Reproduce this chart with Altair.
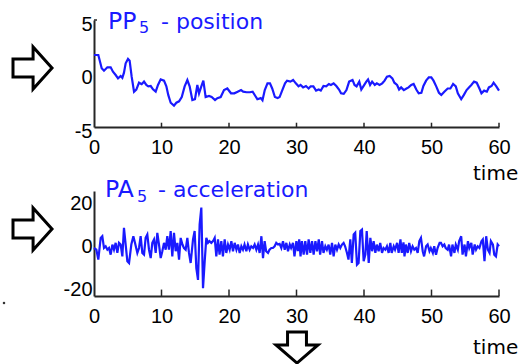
import altair as alt
import pandas as pd

# ---------------- data ----------------
pos_t = [0, 0.64, 1.14, 1.48, 1.98, 2.47, 2.81, 3.21, 3.56, 3.95, 4.2, 4.44, 4.69, 5.04, 5.28,
         5.58, 5.93, 6.27, 6.67, 7.06, 7.41, 7.75, 8.05, 8.4, 8.74, 9.14, 9.48, 9.88, 10.37,
         10.72, 11.0, 11.36, 11.85, 12.2, 12.6, 13.0, 13.43, 13.83, 14.17, 14.57, 14.96, 15.31,
         15.56, 15.9, 16.2, 16.54, 17.04, 17.43, 17.93, 18.27, 18.77, 19.26, 19.75, 20.3, 20.79,
         21.28, 21.78, 22.1, 22.6, 23.1, 23.5, 23.9, 24.2, 24.7, 24.96, 25.3, 25.7, 26.07, 26.4,
         26.8, 27.2, 27.5, 27.9, 28.3, 28.6, 29.1, 29.5, 29.9, 30.3, 30.6, 30.98, 31.4, 31.8,
         32.1, 32.5, 32.9, 33.3, 33.6, 34.0, 34.4, 34.8, 35.1, 35.5, 35.9, 36.3, 36.6, 37.0,
         37.4, 37.8, 38.3, 38.6, 38.9, 39.3, 39.6, 39.9, 40.34, 40.6, 40.9, 41.2, 41.6, 41.9,
         42.3, 42.7, 43.05, 43.4, 43.8, 44.2, 44.5, 44.9, 45.2, 45.5, 45.9, 46.3, 46.6, 47.0,
         47.35, 47.75, 48.1, 48.5, 48.8, 49.2, 49.6, 49.97, 50.3, 50.7, 51.1, 51.45, 51.9, 52.4,
         52.8, 53.2, 53.6, 53.9, 54.4, 54.8, 55.2, 55.55, 55.9, 56.3, 56.7, 57.1, 57.4, 57.8,
         58.2, 58.5, 58.9, 59.2, 59.6, 60.0]
pos_v = [1.73, 1.73, 0.49, 0.26, 0.58, 0.58, 0.17, -0.14, -0.45, -0.23, -0.4, 0.08, 0.95, 1.36,
         1.2, -0.3, -1.7, -1.5, -0.86, -1.0, -0.76, -1.07, -1.2, -1.17, -1.48, -1.7, -1.07,
         -0.55, -0.67, -1.2, -2.0, -2.73, -3.0, -2.73, -2.6, -2.2, -1.2, -0.61, -1.2, -2.48,
         -2.4, -1.07, -1.86, -1.2, -0.67, -2.2, -2.1, -2.2, -2.48, -2.3, -2.2, -1.54, -1.4,
         -1.85, -1.85, -1.7, -1.55, -1.7, -1.75, -1.75, -1.7, -2.1, -2.4, -2.3, -2.5, -1.55,
         -0.92, -0.92, -1.4, -2.2, -2.3, -2.2, -1.55, -0.92, -0.67, -0.76, -0.6, -0.92, -1.2,
         -1.07, -1.3, -1.17, -1.4, -1.2, -1.2, -1.6, -1.5, -1.6, -1.17, -1.2, -0.98, -1.07,
         -0.92, -1.17, -1.5, -1.85, -1.9, -1.55, -0.76, -0.6, -1.07, -1.2, -0.76, -1.5, -1.2,
         -0.76, -0.55, -1.07, -0.76, -1.07, -0.92, -1.07, -0.92, -0.67, -0.3, -0.23, -0.45,
         -0.86, -1.07, -1.5, -1.3, -1.55, -1.4, -1.3, -1.07, -0.98, -1.5, -1.85, -1.8, -1.17,
         -0.67, -0.36, -0.36, -0.67, -1.2, -1.8, -2.0, -1.7, -1.4, -1.4, -0.98, -1.2, -1.85,
         -2.4, -2.0, -1.55, -1.3, -1.07, -0.76, -0.86, -1.4, -1.85, -1.6, -1.7, -1.3, -1.17,
         -0.86, -1.2, -1.6]

acc_t = [0, 0.35, 0.64, 0.99, 1.23, 1.48, 1.73, 1.98, 2.22, 2.47, 2.72, 2.96, 3.21, 3.46, 3.7,
         3.95, 4.2, 4.44, 4.69, 4.94, 5.19, 5.53, 5.83, 6.07, 6.42, 6.67, 6.91, 7.16, 7.41,
         7.65, 7.9, 8.15, 8.4, 8.64, 8.89, 9.14, 9.38, 9.63, 9.88, 10.12, 10.37, 10.62, 10.86,
         11.1, 11.36, 11.6, 11.85, 12.1, 12.35, 12.6, 12.84, 13.1, 13.33, 13.58, 13.83, 14.07,
         14.32, 14.67, 14.91, 15.16, 15.41, 15.65, 15.9, 16.15, 16.4, 16.64, 16.89, 17.1, 17.38,
         17.63, 17.88, 18.12, 18.37, 18.6, 18.86, 19.1, 19.36, 19.6, 19.85, 20.1, 20.35, 20.59,
         20.84, 21.1, 21.33, 21.58, 21.83, 22.07, 22.3, 22.57, 22.8, 23.06, 23.3, 23.56, 23.8,
         24.05, 24.3, 24.54, 24.8, 25.04, 25.28, 25.5, 25.78, 26.0, 26.27, 26.5, 26.76, 27.0,
         27.26, 27.5, 27.75, 28.0, 28.25, 28.5, 28.74, 29.0, 29.2, 29.48, 29.7, 29.98, 30.2,
         30.4, 30.6, 30.8, 31.06, 31.3, 31.56, 31.8, 32.05, 32.3, 32.54, 32.8, 33.04, 33.3,
         33.5, 33.78, 34.0, 34.27, 34.5, 34.76, 35.0, 35.26, 35.5, 35.75, 36.0, 36.25, 36.49,
         36.74, 36.98, 37.2, 37.48, 37.7, 37.97, 38.2, 38.47, 38.7, 38.96, 39.2, 39.46, 39.7,
         39.95, 40.2, 40.4, 40.7, 40.94, 41.2, 41.43, 41.68, 41.9, 42.17, 42.4, 42.67, 42.9,
         43.16, 43.4, 43.65, 43.9, 44.1, 44.4, 44.6, 44.9, 45.13, 45.4, 45.6, 45.85, 46.0, 46.2,
         46.47, 46.7, 46.96, 47.2, 47.45, 47.7, 47.95, 48.2, 48.44, 48.7, 48.9, 49.2, 49.43,
         49.7, 49.9, 50.2, 50.4, 50.67, 50.9, 51.2, 51.4, 51.65, 51.9, 52.1, 52.4, 52.6, 52.9,
         53.1, 53.4, 53.6, 53.9, 54.1, 54.4, 54.6, 54.9, 55.1, 55.4, 55.6, 55.9, 56.1, 56.4,
         56.6, 56.85, 57.1, 57.4, 57.6, 57.85, 58.1, 58.35, 58.6, 58.8, 59.1, 59.3, 59.55,
         59.8, 60.0]
acc_v = [-1.6, -2.4, -7, 3.1, 3.9, -1.6, -0.8, -2.4, -1.6, -4.7, 0, -2.4, 0.8, -3.9, 0.8, 0,
         -5.5, 7.8, 0, -7.8, -8.6, 0, 3.9, 0.8, -3.9, -1.6, 3.9, -3.9, -4.7, 3.1, 4.7, -2.4,
         -6.3, 0.8, 2.4, -3.9, 5.5, 0, -6.3, -3.1, 0.8, -2.4, 3.9, -2.4, 6.3, -5.5, 5.5, -3.1,
         0.8, -7, 3.1, 0, -1.6, -2.4, 3.1, -3.9, -8.6, 2.4, 6.3, -11, -16.5, 9.4, 17.3, -20.4,
         -7.8, 3.1, 0.8, 1.6, 0.8, 1.6, 3.1, -5.5, 2.4, -4.7, 1.6, -5.5, 2.4, -3.9, 0, -2.4,
         1.6, -3.1, 0.8, -2.4, 0, -3.9, -0.8, -2.4, 0, -3.1, 0, -2.4, -0.8, -1.6, 0, -2.4, 0,
         -3.9, 3.9, -6.3, 1.6, -3.1, -3.9, -2.4, -1.6, -1.6, -0.8, 0.8, 0, 0.3, -1.6, 1.6,
         -2.4, 0.8, -3.1, 0, -1.6, 0.8, -5.5, 1.6, -3.0, 2.4, -5.5, 1.6, -4.7, 1.6, -4.7, 2.4,
         -3.9, 1.6, -4.7, 1.6, -3.1, 2.4, -4.7, 1.6, -3.9, -0.8, -2.4, 0, -4.7, 0.8, -5.5, 0,
         -2.4, 0, -1.6, 0, 0.8, -0.8, -3.9, -7, 2.4, -8.6, 4.7, 5.5, -9.4, -8.6, 6.3, 7,
         -7.8, -4.7, 6.3, -8.6, 3.1, -3.1, 1.6, -3.9, 0, -3.1, 0.8, -3.9, -1.6, -2.4, -0.8,
         -3.9, 0.8, -3.9, -0.8, -2.4, 0.8, -3.9, 2.4, -3.9, 1.0, -5.5, 0, -3.9, 0.8, -3.1,
         -0.8, -2.4, -1.6, -3.9, 1.6, 3.1, -3.1, -5.5, -0.8, 0, -3.1, -1.6, -3.9, -0.8, -4.7,
         -1.6, 0.8, 0.8, -0.8, 0, -1.6, -2.4, 0, -5.5, 0, -3.9, 0, -2.4, 1.6, 3.9, -4.7, 0,
         -5.5, 1.6, -1.6, 0.8, -4.7, 0, -2.4, -0.8, -1.6, 1.6, 2.4, -7.8, 3.9, -2.4, -3.9,
         1.6, 0, -4.7, -5.5, 0, -0.8]

x_ticks = [0, 10, 20, 30, 40, 50, 60]
inner_ticks = [10, 20, 30, 40, 50, 60]
pos_yticks = [-5, 0, 5]
acc_yticks = [-20, 0, 20]
pos_domain = [-5, 5]
acc_domain = [-24, 25]

# ---------------- style ----------------
BLUE = "#1a1aff"
AXC = "#262626"
NUMFONT = "Liberation Sans, Arial, sans-serif"
WIDE = "DejaVu Sans, sans-serif"
W = 405
RIGHT_ARROW = "M -1 -0.46 L 0.03 -0.46 L 0.03 -1.08 L 1 0 L 0.03 1.08 L 0.03 0.46 L -1 0.46 Z"
DOWN_ARROW = "M -0.45 -0.74 L 0.45 -0.74 L 0.45 -0.12 L 1 -0.12 L 0 0.74 L -1 -0.12 L -0.45 -0.12 Z"

one = pd.DataFrame({"k": [0]})


def xaxis():
    return alt.Axis(values=x_ticks, title=None, grid=False, tickSize=0, labelPadding=10,
                    labelFont=NUMFONT, labelFontSize=20, labelColor="black", labelAngle=0,
                    labelFlush=False, labelOverlap=False, labelExpr="'' + datum.value",
                    domainColor=AXC, domainWidth=2)


def yaxis(vals, off):
    return alt.Axis(values=vals, title=None, grid=False, tickSize=0, labelPadding=2,
                    labelOffset=off, labelFont=NUMFONT, labelFontSize=20, labelColor="black",
                    labelFlush=False, labelOverlap=False, labelExpr="'' + datum.value",
                    domainColor=AXC, domainWidth=2)


def text(s, x, y, size, font=WIDE, color=BLUE):
    return alt.Chart(one).mark_text(text=s, align="left", baseline="alphabetic",
                                    font=font, fontSize=size, color=color).encode(
        x=alt.value(x), y=alt.value(y))


def arrow(path, size, x, y):
    return alt.Chart(one).mark_point(shape=path, size=size, filled=True, fill="white",
                                     stroke="black", strokeWidth=3, opacity=1,
                                     fillOpacity=1).encode(x=alt.value(x), y=alt.value(y))


def panel(t, v, domain, yticks, tick_len, off, title, sub, rest, tdx, sub_dx, rest_dx, base):
    df = pd.DataFrame({"t": t, "v": v})
    xs = alt.Scale(domain=[0, 60], nice=False, zero=False)
    ys = alt.Scale(domain=domain, nice=False, zero=False)
    line = alt.Chart(df).mark_line(color=BLUE, strokeWidth=2.2, interpolate="linear").encode(
        x=alt.X("t:Q", scale=xs, axis=xaxis()),
        y=alt.Y("v:Q", scale=ys, axis=yaxis(yticks, off)))
    tk = pd.DataFrame({"t": inner_ticks, "lo": [domain[0]] * len(inner_ticks),
                       "hi": [domain[0] + tick_len] * len(inner_ticks)})
    ticks = alt.Chart(tk).mark_rule(color=AXC, strokeWidth=1.5).encode(
        x=alt.X("t:Q", scale=xs), y=alt.Y("lo:Q", scale=ys), y2="hi:Q")
    layers = [line, ticks,
              text(title, tdx, base, 23.5),
              text(sub, sub_dx, base + 4.5, 16),
              text(rest, rest_dx, base, 22)]
    return layers, xs, ys


top_layers, txs, tys = panel(pos_t, pos_v, pos_domain, pos_yticks, 0.4, 4,
                             "PP", "5", "- position", 14, 45, 67, 8.5)
ytick_top = pd.DataFrame({"a": [0], "b": [0.45], "y": [pos_domain[1]]})
top_layers += [
    alt.Chart(ytick_top).mark_rule(color=AXC, strokeWidth=1.5).encode(
        x=alt.X("a:Q", scale=txs), x2="b:Q", y=alt.Y("y:Q", scale=tys)),
    text("time", 379, 160, 20, color="black"),
    arrow(RIGHT_ARROW, 1521, -61.5, 48),
]
top = alt.layer(*top_layers).properties(width=W, height=107)

bot_layers, _, _ = panel(acc_t, acc_v, acc_domain, acc_yticks, 3, 2,
                         "PA", "5", "- acceleration", 11, 43, 64, 6)
bot_layers += [
    text("time", 379, 163, 20, color="black"),
    arrow(RIGHT_ARROW, 1521, -61.5, 38),
    arrow(DOWN_ARROW, 1764, 203, 156.5),
    alt.Chart(one).mark_square(size=5, color="#333", opacity=1).encode(
        x=alt.value(-90), y=alt.value(112)),
]
bottom = alt.layer(*bot_layers).properties(width=W, height=105)

chart = alt.vconcat(top, bottom, spacing=64, bounds="flush").properties(
    padding={"left": 2, "top": 9, "right": 0, "bottom": 0},
    background="white",
).configure_view(stroke=None)

chart.save("out.html", embed_options={"renderer": "svg", "actions": False})
